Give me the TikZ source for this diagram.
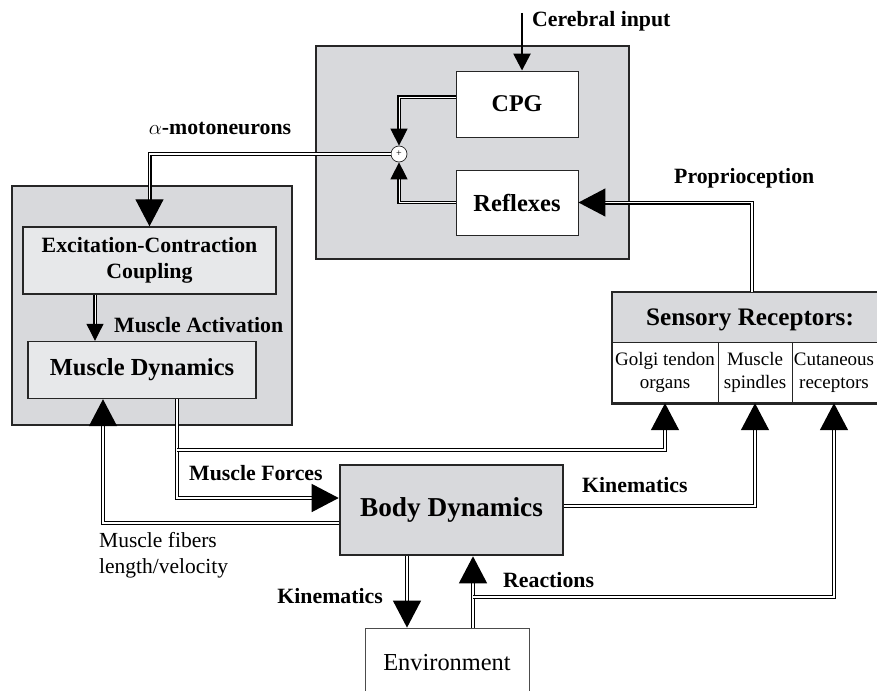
\documentclass[tikz,border=0pt]{standalone}
\usepackage{fontspec}
\setmainfont{Liberation Serif}
\usetikzlibrary{arrows.meta,calc}
\definecolor{boxgray}{RGB}{216,217,220}
\definecolor{lightbox}{RGB}{231,232,234}
\newcommand{\fsz}[2]{\fontsize{#1}{#2}\selectfont}
\tikzset{
  bigtip/.style={-{Triangle[length=27pt,width=28pt]}},
  smalltip/.style={-{Triangle[length=17pt,width=17pt]}},
  conn/.style={draw=black, line width=1.3pt, double=white, double distance=1.4pt},
  thinconn/.style={draw=black, line width=1.1pt, double=white, double distance=0.9pt},
  outer/.style={draw=black!85, line width=2.6pt, fill=boxgray, inner sep=0pt},
  inner/.style={draw=black!85, line width=1.4pt, fill=lightbox, inner sep=0pt, align=center, font=\bfseries},
  wbox/.style={draw=black!85, line width=0.9pt, fill=white, inner sep=0pt, font=\bfseries},
  lbl/.style={inner sep=0pt, font=\bfseries\fsz{21.8}{26}},
  cell/.style={inner sep=0pt, align=center, font=\fsz{19}{23}},
}
\begin{document}
\begin{tikzpicture}[x=1pt, y=-1pt]
\clip (0,0) rectangle (877,690);
\fill[white] (0,0) rectangle (877,690);

% neural box
\node[outer, minimum width=313pt, minimum height=213pt] (neural) at (472.5,152.5) {};
\node[wbox, minimum width=122pt, minimum height=66pt, font=\bfseries\fsz{24}{28}] (cpg) at (517,104) {CPG};
\node[wbox, minimum width=122pt, minimum height=65pt, font=\bfseries\fsz{24.5}{28}] (refl) at (517,202.5) {Reflexes};
\node[circle, draw=black!85, fill=white, line width=0.7pt, minimum size=16pt, inner sep=0pt] (sum) at (399,154) {\fsz{10}{10}+};

% muscle box
\node[outer, minimum width=280pt, minimum height=239pt] (musc) at (152,305.5) {};
\node[inner, minimum width=253pt, minimum height=67pt, font=\bfseries\fsz{21.8}{26}] (ecc) at (149.5,260.5) {Excitation-Contraction\\Coupling};
\node[inner, minimum width=228pt, minimum height=57pt, font=\bfseries\fsz{24.5}{28}] (md) at (142,370) {Muscle Dynamics};

% body dynamics
\node[outer, minimum width=223pt, minimum height=90pt, font=\bfseries\fsz{27.3}{31}] (bd) at (451.5,510) {Body Dynamics};

% environment
\node[draw=black!70, line width=0.8pt, fill=white, minimum width=164pt, minimum height=64pt, inner sep=0pt] (env) at (447,660) {};
\node[inner sep=0pt, font=\fsz{24.4}{28}] (envt) at (447,663) {Environment};

% sensory receptors
\node[draw=none, fill=white, minimum width=268pt, minimum height=111pt, inner sep=0pt] (sr) at (746,347.5) {};
\node[fill=boxgray, minimum width=268pt, minimum height=50pt, inner sep=0pt] (srh) at (746,317) {};
\node[inner sep=0pt, font=\bfseries\fsz{25.2}{29}] (srt) at (750,320) {Sensory Receptors:};
\node[cell, minimum width=106pt, minimum height=61pt] (golgi) at (665,372.5) {Golgi tendon\\organs};
\node[cell, minimum width=74pt, minimum height=61pt] (spind) at (755,372.5) {Muscle\\spindles};
\node[cell, minimum width=84pt, minimum height=61pt] (cut) at (834,372.5) {Cutaneous\\receptors};
\draw[black!85, line width=1.2pt] (srh.south west) -- (srh.south east);
\draw[black!85, line width=1pt] (golgi.north east) -- (golgi.south east);
\draw[black!85, line width=1pt] (spind.north east) -- (spind.south east);
\draw[black!85, line width=2.6pt] (sr.south west) rectangle (sr.north east);

% coordinates
\coordinate (cin) at (522,13);
\coordinate (ea) at (95,0);
\coordinate (mfx) at (177,0);
\coordinate (br) at (177,450);
\coordinate (fbx) at (103,0);
\coordinate (kx) at (407,0);
\coordinate (rx) at (473,0);
\coordinate (rj) at (473,597);
\coordinate (px) at (752,0);

% connectors
\draw[black, line width=2.6pt, smalltip] (cin) -- (cin |- cpg.north);
\draw[thinconn, smalltip] ($(cpg.west)+(0,-7)$) -| (sum.north);
\draw[thinconn, smalltip] (refl.west) -| (sum.south);
\draw[conn, bigtip] (sum.west) -| (ecc.north);
\draw[thinconn, smalltip] (ecc.south -| ea) -- (md.north -| ea);
\draw[conn, bigtip] (md.south -| mfx) |- ($(bd.west)+(0,-12)$);
\draw[conn, bigtip] (br) -| (golgi.south);
\draw[conn, bigtip] ($(bd.west)+(0,13)$) -| (md.south -| fbx);
\draw[conn, bigtip] ($(bd.east)+(0,-4)$) -| (spind.south);
\draw[conn, bigtip] (bd.south -| kx) -- (env.north -| kx);
\draw[conn, bigtip] (env.north -| rx) -- (bd.south -| rx);
\draw[conn, bigtip] (rj) -| (cut.south);
\draw[conn, bigtip] (sr.north -| px) |- (refl.east);

% labels
\node[lbl, anchor=west] (lcer) at (532,21) {Cerebral input};
\node[lbl] (lalpha) at (220,128) {$\alpha$-motoneurons};
\node[lbl, anchor=west] (lprop) at (674,178) {Proprioception};
\node[lbl, anchor=west] (lact) at (114,325) {Muscle Activation};
\node[lbl, anchor=west] (lforce) at (189,473) {Muscle Forces};
\node[lbl, anchor=west] (lkin1) at (582,485) {Kinematics};
\node[lbl, anchor=east] (lkin2) at (383,596) {Kinematics};
\node[lbl, anchor=west] (lreac) at (503,580) {Reactions};
\node[inner sep=0pt, anchor=north west, align=left, font=\fsz{21.5}{26}] (lfib) at (99,532) {Muscle fibers\\length/velocity};
\end{tikzpicture}
\end{document}
